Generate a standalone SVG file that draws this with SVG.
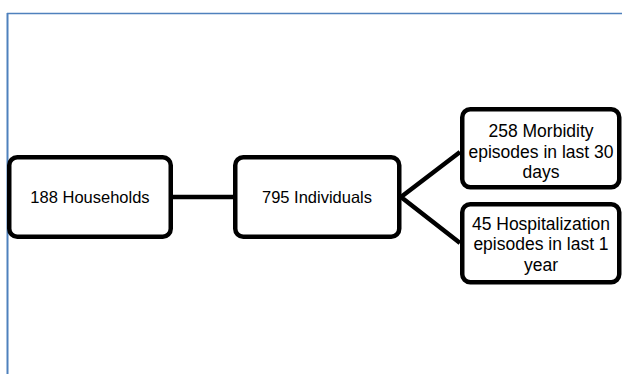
<svg xmlns="http://www.w3.org/2000/svg" width="622" height="374" viewBox="0 0 622 374">
<style>
.box{fill:#fff;stroke:#000;stroke-width:4.5}
.lbl{font-family:"Liberation Sans",Arial,sans-serif;font-size:16.5px;fill:#000;text-anchor:middle}
.lbl2{font-family:"Liberation Sans",Arial,sans-serif;font-size:17.5px;fill:#000;text-anchor:middle}
.con{stroke:#000;stroke-width:4.5;fill:none}
.frame{stroke:#4F81BD;fill:none}
</style>
<rect width="622" height="374" fill="#fff"/>
<g id="frame">
<line class="frame" x1="7" y1="13.5" x2="622" y2="13.5" stroke-width="1.5"/>
<line class="frame" x1="7.5" y1="13" x2="7.5" y2="374" stroke-width="2"/>
</g>
<g id="connectors">
<line class="con" x1="171" y1="197" x2="235" y2="197"/>
<polyline class="con" points="460,152 401,197 460,243"/>
</g>
<g id="households">
<rect class="box" x="9.25" y="157.25" width="161.5" height="79.5" rx="8"/>
<text class="lbl" x="90" y="203">188 Households</text>
</g>
<g id="individuals">
<rect class="box" x="235.25" y="157.25" width="164" height="79.5" rx="8"/>
<text class="lbl" x="317" y="203">795 Individuals</text>
</g>
<g id="morbidity">
<rect class="box" x="462.25" y="109.25" width="157" height="78" rx="8"/>
<text class="lbl2" x="541" y="137">258 Morbidity</text>
<text class="lbl2" x="541" y="157.5">episodes in last 30</text>
<text class="lbl2" x="541" y="178">days</text>
</g>
<g id="hospitalization">
<rect class="box" x="462.25" y="204.25" width="157" height="78" rx="8"/>
<text class="lbl2" x="541" y="229.5">45 Hospitalization</text>
<text class="lbl2" x="541" y="250">episodes in last 1</text>
<text class="lbl2" x="541" y="270.5">year</text>
</g>
</svg>
